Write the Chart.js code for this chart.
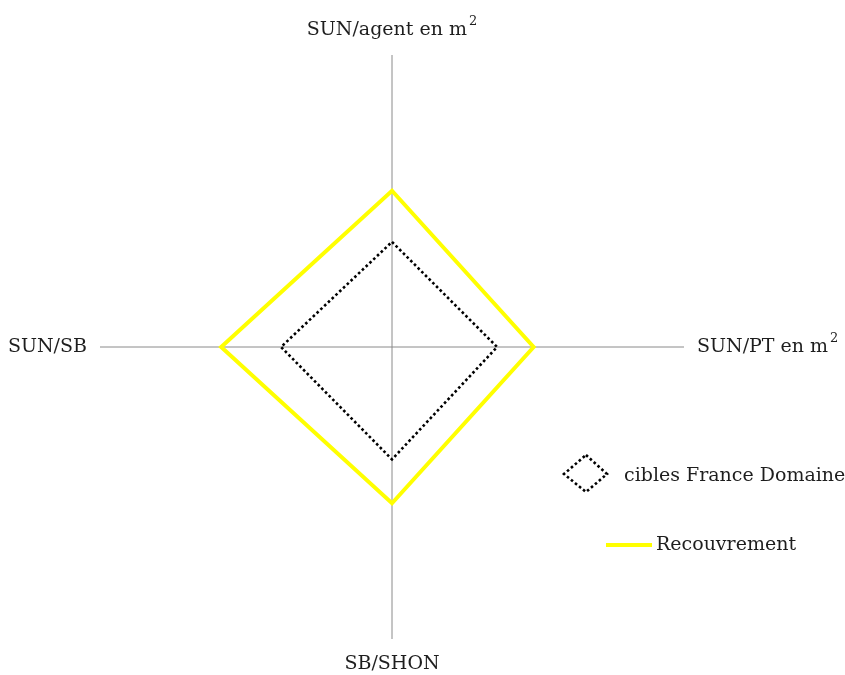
<!DOCTYPE html>
<html>
<head>
<meta charset="utf-8">
<script src="https://cdn.jsdelivr.net/npm/chart.js@4"></script>
<style>
  html, body { margin: 0; padding: 0; background: #fff; }
  #wrap { width: 845px; height: 675px; }
</style>
</head>
<body>
<div id="wrap"><canvas id="radarChart" width="845" height="675"></canvas></div>
<script>
// axes, clockwise from the top
var axisLabels = ["SUN/agent en m\u00B2", "SUN/PT en m\u00B2", "SB/SHON", "SUN/SB"];
var cibles = [7.2, 7.2, 7.7, 7.6];
var recouvrement = [10.7, 9.7, 10.7, 11.7];
var scaleMin = 0;
var scaleMax = 20;

var FONT = "19px 'DejaVu Serif'";
var SUP_FONT = "13px 'DejaVu Serif'";
var TEXT_COLOR = "#1e1e1e";

// writes a label, turning a trailing "²" into a real raised "2"
function drawText(ctx, text, x, y, align) {
  var sup = '';
  var base = text;
  if (text.charAt(text.length - 1) === '\u00B2') {
    base = text.slice(0, -1);
    sup = '2';
  }
  ctx.font = FONT;
  var wBase = ctx.measureText(base).width;
  ctx.font = SUP_FONT;
  var wSup = sup ? ctx.measureText(sup).width + 2 : 0;
  var total = wBase + wSup;
  var x0 = x;
  if (align === 'center') x0 = x - total / 2;
  else if (align === 'right') x0 = x - total;
  ctx.textAlign = 'left';
  ctx.textBaseline = 'middle';
  ctx.font = FONT;
  ctx.fillText(base, x0, y);
  if (sup) {
    ctx.font = SUP_FONT;
    ctx.fillText(sup, x0 + wBase + 2, y - 8);
  }
}

// point labels + legend drawn by hand (labels hidden in the scale so the
// radius is not shrunk)
var labelsAndLegend = {
  id: 'labelsAndLegend',
  afterDraw: function(chart) {
    var ctx = chart.ctx;
    var scale = chart.scales.r;
    ctx.save();
    ctx.fillStyle = TEXT_COLOR;
    for (var i = 0; i < axisLabels.length; i++) {
      var angle = scale.getIndexAngle(i);
      var vertical = Math.abs(Math.sin(angle)) < 0.01;
      var gap = vertical ? 25 : 13;
      var p = scale.getPointPosition(i, scale.drawingArea + gap);
      var align = vertical ? 'center' : (Math.sin(angle) > 0 ? 'left' : 'right');
      drawText(ctx, axisLabels[i], p.x, p.y, align);
    }

    // legend
    var ds = chart.data.datasets;
    // dotted diamond
    ctx.strokeStyle = ds[0].borderColor;
    ctx.lineWidth = ds[0].borderWidth;
    ctx.setLineDash(ds[0].borderDash);
    ctx.beginPath();
    ctx.moveTo(586, 455);
    ctx.lineTo(607, 474);
    ctx.lineTo(586, 492);
    ctx.lineTo(564, 474);
    ctx.closePath();
    ctx.stroke();
    ctx.setLineDash([]);
    drawText(ctx, ds[0].label, 624, 476, 'left');
    // yellow line
    ctx.strokeStyle = ds[1].borderColor;
    ctx.lineWidth = ds[1].borderWidth;
    ctx.beginPath();
    ctx.moveTo(606, 545);
    ctx.lineTo(652, 545);
    ctx.stroke();
    drawText(ctx, ds[1].label, 656, 545, 'left');
    ctx.restore();
  }
};

var ctx = document.getElementById('radarChart').getContext('2d');
var chart = new Chart(ctx, {
  type: 'radar',
  data: {
    labels: axisLabels,
    datasets: [{
      label: "cibles France Domaine",
      data: cibles,
      borderColor: '#000000',
      borderWidth: 2.6,
      borderDash: [2.6, 2.6],
      fill: false,
      pointRadius: 0,
      tension: 0
    }, {
      label: "Recouvrement",
      data: recouvrement,
      borderColor: '#FFFF00',
      borderWidth: 4,
      fill: false,
      pointRadius: 0,
      tension: 0
    }]
  },
  options: {
    responsive: false,
    animation: false,
    layout: { padding: { left: 100, right: 161, top: 55, bottom: 36 } },
    plugins: {
      legend: { display: false },
      tooltip: { enabled: false }
    },
    scales: {
      r: {
        min: scaleMin,
        max: scaleMax,
        startAngle: 0,
        grid: { display: false },
        ticks: { display: false },
        pointLabels: { display: false },
        angleLines: { display: true, color: '#8a8a8a', lineWidth: 1 }
      }
    }
  },
  plugins: [labelsAndLegend]
});
</script>
</body>
</html>
